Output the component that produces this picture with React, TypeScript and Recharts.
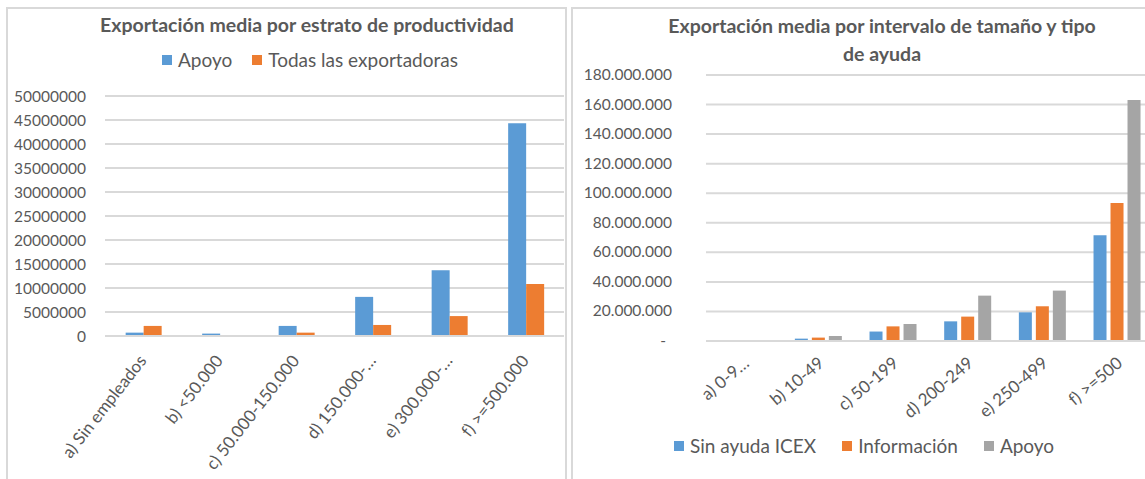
import { Bar, BarChart, CartesianGrid, XAxis, YAxis } from "recharts";

const FONT = "Lato, 'Open Sans', sans-serif";
const TEXT = "#595959";
const GRID = "#d9d9d9";

// left chart: exportación media por estrato de productividad
const estratos = [
  "a) Sin empleados",
  "b) <50.000",
  "c) 50.000-150.000",
  "d) 150.000-…",
  "e) 300.000-…",
  "f) >=500.000"
];
const apoyoEstrato = [700000, 500000, 2100000, 8150000, 13700000, 44300000];
const todasEstrato = [2100000, 0, 700000, 2300000, 4150000, 10850000];
const estratoTicks = [
  0, 5000000, 10000000, 15000000, 20000000, 25000000, 30000000, 35000000, 40000000, 45000000,
  50000000
];
const estratoSeries = [
  { key: "apoyo", name: "Apoyo", color: "#5B9BD5" },
  { key: "todas", name: "Todas las exportadoras", color: "#ED7D31" }
];

// right chart: exportación media por intervalo de tamaño y tipo de ayuda
const tamanos = ["a) 0-9…", "b) 10-49", "c) 50-199", "d) 200-249", "e) 250-499", "f) >=500"];
const sinAyuda = [100000, 1600000, 6400000, 13300000, 19400000, 71500000];
const informacion = [150000, 2300000, 9900000, 16500000, 23500000, 93400000];
const apoyoTamano = [200000, 3400000, 11500000, 30700000, 34100000, 163000000];
const tamanoTicks = [
  0, 20000000, 40000000, 60000000, 80000000, 100000000, 120000000, 140000000, 160000000,
  180000000
];
const tamanoSeries = [
  { key: "sin", name: "Sin ayuda ICEX", color: "#5B9BD5" },
  { key: "info", name: "Información", color: "#ED7D31" },
  { key: "apoyo", name: "Apoyo", color: "#A5A5A5" }
];

const estratoData = estratos.map((name, i) => ({
  name,
  apoyo: apoyoEstrato[i],
  todas: todasEstrato[i]
}));

const tamanoData = tamanos.map((name, i) => ({
  name,
  sin: sinAyuda[i],
  info: informacion[i],
  apoyo: apoyoTamano[i]
}));

function withDots(value: number) {
  if (value === 0) return "-";
  return String(value).replace(/\B(?=(\d{3})+(?!\d))/g, ".");
}

function SlantTick({ x, y, payload, angle = -45, dx = 0, dy = 0, size = 16 }: any) {
  const tx = x + dx;
  const ty = y + dy;
  return (
    <text
      x={tx}
      y={ty}
      transform={`rotate(${angle} ${tx} ${ty})`}
      textAnchor="end"
      fill={TEXT}
      fontSize={size}
      fontFamily={FONT}
    >
      {payload.value}
    </text>
  );
}

function DotTick({ x, y, payload }: any) {
  const zero = payload.value === 0;
  return (
    <text
      x={zero ? x - 6 : x}
      y={y}
      dy={5}
      textAnchor="end"
      fill={TEXT}
      fontSize={15.5}
      fontFamily={FONT}
    >
      {withDots(payload.value)}
    </text>
  );
}

function LegendRow({
  items,
  left,
  top,
  gap
}: {
  items: Array<{ name: string; color: string }>;
  left: number;
  top: number;
  gap: number;
}) {
  return (
    <div
      style={{
        position: "absolute",
        left,
        top,
        display: "flex",
        alignItems: "center",
        gap,
        fontFamily: FONT,
        fontSize: 19,
        color: TEXT,
        whiteSpace: "nowrap"
      }}
    >
      {items.map((item) => (
        <div key={item.name} style={{ display: "flex", alignItems: "center", gap: 6 }}>
          <span style={{ width: 10, height: 10, background: item.color, display: "inline-block" }} />
          <span>{item.name}</span>
        </div>
      ))}
    </div>
  );
}

export default function App() {
  return (
    <div
      style={{
        position: "absolute",
        left: 0,
        top: 0,
        width: 1145,
        height: 479,
        overflow: "hidden",
        background: "#fff",
        fontFamily: FONT
      }}
    >
      {/* panel frames */}
      <div
        style={{
          position: "absolute",
          left: 6,
          top: 7,
          width: 557,
          height: 490,
          border: `2px solid ${GRID}`
        }}
      />
      <div
        style={{
          position: "absolute",
          left: 571,
          top: 7,
          width: 600,
          height: 490,
          border: `2px solid ${GRID}`
        }}
      />

      <div style={{ position: "absolute", left: 0, top: 0 }}>
        <BarChart
          width={565}
          height={479}
          data={estratoData}
          margin={{ top: 96, right: 1, bottom: 0, left: 0 }}
          barCategoryGap="27%"
          barGap={0}
        >
          <CartesianGrid stroke={GRID} strokeWidth={2} vertical={false} />
          <XAxis
            dataKey="name"
            interval={0}
            height={143}
            tickLine={false}
            tickSize={0}
            tickMargin={0}
            axisLine={{ stroke: GRID, strokeWidth: 2 }}
            tick={<SlantTick angle={-52} dx={4} dy={25} size={17} />}
          />
          <YAxis
            width={105}
            domain={[0, 50000000]}
            ticks={estratoTicks}
            interval={0}
            axisLine={false}
            tickLine={false}
            tickSize={0}
            tickMargin={19}
            tick={{ fill: TEXT, fontSize: 15.5, fontFamily: FONT }}
          />
          {estratoSeries.map((s) => (
            <Bar key={s.key} dataKey={s.key} name={s.name} fill={s.color} isAnimationActive={false} />
          ))}
        </BarChart>
      </div>

      <div
        style={{
          position: "absolute",
          left: 100,
          top: 13,
          fontSize: 19.5,
          fontWeight: 700,
          color: TEXT,
          whiteSpace: "nowrap"
        }}
      >
        Exportación media por estrato de productividad
      </div>
      <LegendRow items={estratoSeries} left={162} top={48} gap={20} />

      <div style={{ position: "absolute", left: 573, top: 0 }}>
        <BarChart
          width={587}
          height={479}
          data={tamanoData}
          margin={{ top: 75, right: 6, bottom: 0, left: 0 }}
          barCategoryGap="19%"
          barGap={4}
        >
          <CartesianGrid stroke={GRID} strokeWidth={2} vertical={false} />
          <XAxis
            dataKey="name"
            interval={0}
            height={138}
            tickLine={false}
            tickSize={0}
            tickMargin={0}
            axisLine={{ stroke: GRID, strokeWidth: 2 }}
            tick={<SlantTick angle={-40} dx={7} dy={24} size={17} />}
          />
          <YAxis
            width={133}
            domain={[0, 180000000]}
            ticks={tamanoTicks}
            interval={0}
            axisLine={false}
            tickLine={false}
            tickSize={0}
            tickMargin={34}
            tick={<DotTick />}
          />
          {tamanoSeries.map((s) => (
            <Bar key={s.key} dataKey={s.key} name={s.name} fill={s.color} isAnimationActive={false} />
          ))}
        </BarChart>
      </div>

      <div
        style={{
          position: "absolute",
          left: 640,
          top: 12,
          width: 484,
          textAlign: "center",
          fontSize: 19.5,
          fontWeight: 700,
          lineHeight: "28px",
          color: TEXT
        }}
      >
        Exportación media por intervalo de tamaño y tipo
        <br />
        de ayuda
      </div>
      <LegendRow items={tamanoSeries} left={674} top={434} gap={26} />
    </div>
  );
}
